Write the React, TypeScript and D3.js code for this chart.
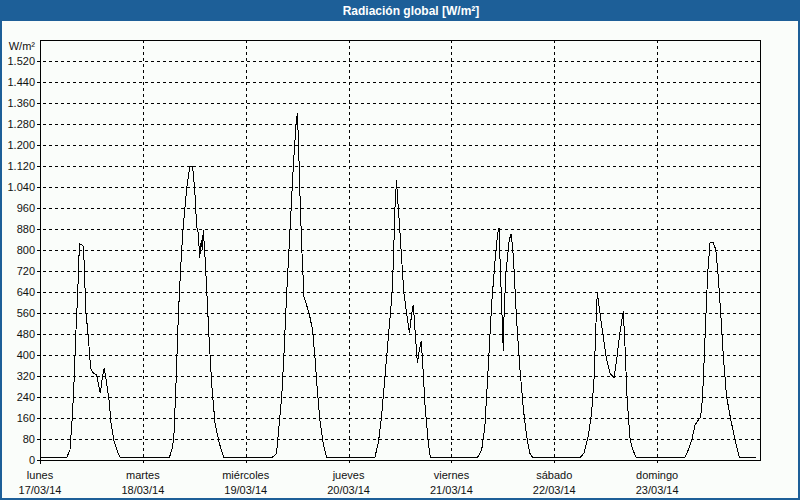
import * as d3 from "d3";

// día de la semana y fecha bajo cada marca del eje X
const dayNames = ["lunes", "martes", "miércoles", "jueves", "viernes", "sábado", "domingo"];
const dayDates = ["17/03/14", "18/03/14", "19/03/14", "20/03/14", "21/03/14", "22/03/14", "23/03/14"];

const yTicks = [0, 80, 160, 240, 320, 400, 480, 560, 640, 720, 800, 880, 960, 1040, 1120, 1200, 1280, 1360, 1440, 1520];

// lecturas [hora del día, W/m²]
const lunes: [number, number][] = [
  [0, 8], [6.2, 8], [7.0, 39], [7.5, 154], [7.9, 281], [8.4, 496], [8.8, 636], [9.2, 823], [9.8, 820],
  [10.1, 814], [10.35, 738], [10.65, 573], [11.27, 471], [11.8, 350], [12.45, 331], [13.2, 325],
  [13.6, 293], [14.07, 255], [14.6, 319], [15.0, 350], [15.55, 293], [16.1, 230], [16.57, 141],
  [17.27, 71], [18.05, 33], [18.8, 8],
];
const martes: [number, number][] = [
  [6.17, 8], [6.95, 51], [7.27, 101], [7.73, 292], [8.27, 546], [8.83, 737], [9.3, 863], [9.83, 965],
  [10.37, 1054], [11.0, 1120], [11.6, 1120], [12.1, 1029], [12.56, 889], [12.95, 863], [13.25, 768],
  [13.64, 838], [13.87, 800], [14.1, 876], [14.5, 775], [14.9, 648], [15.43, 470], [16.05, 292],
  [16.83, 140], [17.85, 63], [18.93, 8],
];
const miercoles: [number, number][] = [
  [6.05, 8], [7.2, 25], [7.6, 100], [8.4, 241], [8.9, 394], [9.55, 635], [10.3, 863], [11.1, 1117],
  [11.7, 1270], [12.05, 1320], [12.3, 1219], [12.7, 990], [13.1, 800], [13.6, 622], [14.2, 590],
  [14.8, 559], [15.6, 495], [16.2, 381], [16.7, 267], [17.3, 152], [18.1, 60], [18.9, 8],
];
const jueves: [number, number][] = [
  [6.1, 8], [6.95, 65], [7.7, 166], [8.5, 319], [9.3, 471], [10.1, 623], [10.45, 750], [10.8, 954],
  [11.2, 1068], [11.35, 1017], [11.8, 916], [12.35, 776], [12.9, 636], [13.55, 560], [14.2, 484],
  [14.75, 560], [15.1, 592], [15.5, 496], [16.05, 369], [16.5, 420], [16.97, 452], [17.3, 369],
  [17.8, 217], [18.6, 65], [19.1, 8],
];
const viernes: [number, number][] = [
  [6.04, 8], [7.06, 39], [7.8, 128], [8.6, 357], [9.4, 598], [10.2, 763], [10.8, 865], [11.1, 884],
  [11.2, 827], [11.7, 598], [12.1, 414], [12.25, 535], [12.7, 712], [13.5, 839], [13.97, 862],
  [14.45, 776], [15.2, 535], [16.0, 344], [16.8, 192], [17.55, 90], [18.3, 26], [19.0, 8],
];
const sabado: [number, number][] = [
  [6.0, 8], [6.93, 27], [7.94, 90], [8.7, 179], [9.27, 306], [9.73, 522], [10.04, 636], [10.67, 560],
  [11.4, 471], [12.2, 382], [13.0, 331], [13.93, 312], [14.55, 382], [15.3, 484], [16.1, 566],
  [16.5, 433], [17.0, 230], [17.7, 77], [18.3, 39], [19.2, 8],
];
const domingo: [number, number][] = [
  [6.1, 8], [6.5, 12], [7.27, 38], [8.06, 76], [8.83, 133], [9.6, 152], [10.16, 165], [10.6, 241],
  [11.0, 394], [11.4, 559], [11.8, 711], [12.33, 828], [13.1, 828], [13.7, 800], [14.27, 698],
  [14.83, 559], [15.45, 394], [16.2, 241], [17.2, 152], [18.2, 76], [19.2, 8], [23.0, 8],
];
const dayReadings = [lunes, martes, miercoles, jueves, viernes, sabado, domingo];

const width = 800;
const height = 500;
const blue = "#1d5f98";
const font = "'Liberation Sans', Arial, sans-serif";

export default function App() {
  const start = new Date(2014, 2, 17);
  const end = new Date(2014, 2, 24);
  const x = d3.scaleTime().domain([start, end]).range([40, 760]);
  const y = d3.scaleLinear().domain([0, 1600]).range([460, 40]);

  const points = dayReadings.flatMap((readings, i) =>
    readings.map(([h, v]) => ({
      t: d3.timeMinute.offset(d3.timeDay.offset(start, i), Math.round(h * 60)),
      v,
    }))
  );
  const line = d3
    .line<{ t: Date; v: number }>()
    .x((d) => x(d.t))
    .y((d) => y(d.v));

  const fmt = d3
    .formatLocale({ decimal: ",", thousands: ".", grouping: [3], currency: ["", " €"] })
    .format(",d");

  const dayTicks = dayNames.map((_, i) => d3.timeDay.offset(start, i));

  return (
    <>
      <style>{`body{margin:0}`}</style>
      <svg width={width} height={height} style={{ display: "block", fontFamily: font }}>
        <rect x={0} y={0} width={width} height={height} fill="#fafdfa" />
        <rect x={1} y={1} width={width - 2} height={height - 2} fill="none" stroke={blue} strokeWidth={2} />
        <rect x={0} y={0} width={width} height={21} fill={blue} />
        <text x={411} y={15} textAnchor="middle" fill="#fff" fontWeight="bold" fontSize={12}>
          Radiación global [W/m²]
        </text>

        {/* rejilla horizontal */}
        {yTicks.map((t) => (
          <g key={t}>
            {t > 0 && (
              <line
                x1={37}
                x2={760}
                y1={Math.round(y(t)) + 0.5}
                y2={Math.round(y(t)) + 0.5}
                stroke="#000"
                strokeDasharray="3,3"
                shapeRendering="crispEdges"
              />
            )}
            <text x={35} y={y(t)} dy="0.35em" textAnchor="end" fontSize={11} fill="#111">
              {fmt(t)}
            </text>
          </g>
        ))}
        <text x={35} y={46} dy="0.35em" textAnchor="end" fontSize={11} fill="#111">
          W/m²
        </text>

        {/* rejilla vertical y etiquetas de días */}
        {dayTicks.map((d, i) => (
          <g key={i}>
            {i > 0 && (
              <line
                x1={Math.round(x(d)) + 0.5}
                x2={Math.round(x(d)) + 0.5}
                y1={40}
                y2={464}
                stroke="#000"
                strokeDasharray="3,3"
                shapeRendering="crispEdges"
              />
            )}
            <text x={x(d)} y={479} textAnchor="middle" fontSize={11} fill="#111">
              {dayNames[i]}
            </text>
            <text x={x(d)} y={494} textAnchor="middle" fontSize={11} fill="#111">
              {dayDates[i]}
            </text>
          </g>
        ))}

        {/* marco del gráfico */}
        <path
          d={`M40.5,464V40.5H760.5V460.5M37,460.5H760.5`}
          fill="none"
          stroke="#000"
          strokeWidth={1}
          shapeRendering="crispEdges"
        />

        <path d={line(points) ?? ""} fill="none" stroke="#000" strokeWidth={1} shapeRendering="crispEdges" />
      </svg>
    </>
  );
}
